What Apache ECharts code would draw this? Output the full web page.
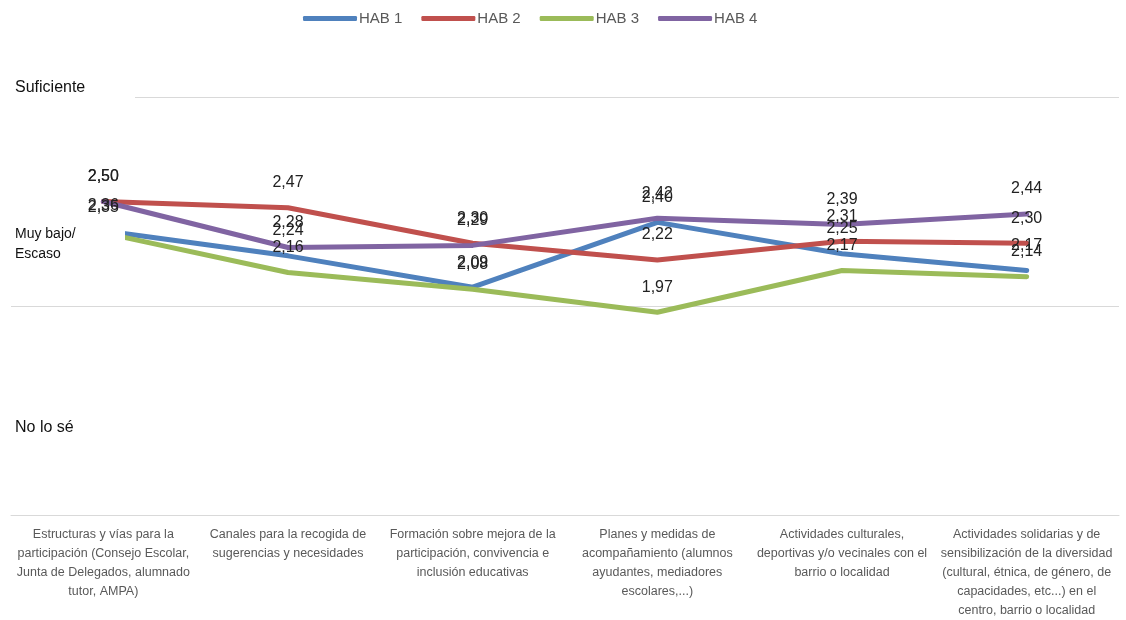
<!DOCTYPE html>
<html>
<head>
<meta charset="utf-8">
<script src="https://cdn.jsdelivr.net/npm/echarts@6/dist/echarts.min.js"></script>
<style>
  html, body { margin: 0; padding: 0; background: #fff; }
  #chart { width: 1126px; height: 620px; }
</style>
</head>
<body>
<div id="chart"></div>
<script>
// categorias del eje x
const categories = [
  'Estructuras y vías para la\nparticipación (Consejo Escolar,\nJunta de Delegados, alumnado\ntutor, AMPA)',
  'Canales para la recogida de\nsugerencias y necesidades',
  'Formación sobre mejora de la\nparticipación, convivencia e\ninclusión educativas',
  'Planes y medidas de\nacompañamiento (alumnos\nayudantes, mediadores\nescolares,...)',
  'Actividades culturales,\ndeportivas y/o vecinales con el\nbarrio o localidad',
  'Actividades solidarias y de\nsensibilización de la diversidad\n(cultural, étnica, de género, de\ncapacidades, etc...) en el\ncentro, barrio o localidad'
]
const seriesNames = ['HAB 1', 'HAB 2', 'HAB 3', 'HAB 4']
const hab1 = [2.36, 2.24, 2.09, 2.40, 2.25, 2.17]
const hab2 = [2.50, 2.47, 2.30, 2.22, 2.31, 2.30]
const hab3 = [2.35, 2.16, 2.08, 1.97, 2.17, 2.14]
const hab4 = [2.50, 2.28, 2.29, 2.42, 2.39, 2.44]
const colors = ['#4F81BD', '#C0504D', '#9BBB59', '#8064A2']

const chart = echarts.init(document.getElementById('chart'))

function lineSeries(name, data, color) {
  return {
    name,
    type: 'line',
    data,
    symbol: 'circle',
    symbolSize: 0,
    showSymbol: true,
    color,
    lineStyle: { width: 5, color, cap: 'round', join: 'round' },
    label: {
      show: true,
      position: 'top',
      distance: 17,
      fontFamily: 'Liberation Sans',
      fontSize: 16,
      color: '#222',
      formatter: p => p.value.toFixed(2).replace('.', ',')
    }
  }
}

chart.setOption({
  animation: false,
  legend: {
    left: 298,
    top: 6,
    icon: 'roundRect',
    itemWidth: 54,
    itemHeight: 5,
    itemGap: 19,
    textStyle: { fontFamily: 'Liberation Sans', fontSize: 15, color: '#595959', padding: [0, 0, 0, -3] },
    data: seriesNames
  },
  grid: { left: 11, right: 7, top: 97, bottom: 101, containLabel: false },
  xAxis: {
    type: 'category',
    data: categories,
    axisLine: { lineStyle: { color: '#d9d9d9', width: 1 } },
    axisTick: { show: false },
    axisLabel: {
      interval: 0,
      margin: 10,
      fontFamily: 'Liberation Sans',
      fontSize: 12.5,
      lineHeight: 19,
      color: '#595959',
      align: 'center',
      verticalAlign: 'top'
    }
  },
  yAxis: {
    type: 'value',
    min: 1,
    max: 3,
    interval: 1,
    axisLabel: { show: false },
    axisLine: { show: false },
    axisTick: { show: false },
    splitLine: { lineStyle: { color: '#d9d9d9', width: 1 } }
  },
  series: [
    lineSeries(seriesNames[0], hab1, colors[0]),
    lineSeries(seriesNames[1], hab2, colors[1]),
    lineSeries(seriesNames[2], hab3, colors[2]),
    lineSeries(seriesNames[3], hab4, colors[3])
  ],
  graphic: [
    // cuadros de texto del eje y (con fondo blanco como en el original)
    { type: 'rect', z: 100, shape: { x: 0, y: 74, width: 135, height: 26 }, style: { fill: '#fff' } },
    { type: 'rect', z: 100, shape: { x: 0, y: 222, width: 125, height: 44 }, style: { fill: '#fff' } },
    { type: 'text', z: 101, left: 15, top: 80, style: { text: 'Suficiente', fontFamily: 'Liberation Sans', fontSize: 16, fill: '#111' } },
    { type: 'text', z: 101, left: 15, top: 224, style: { text: 'Muy bajo/\nEscaso', fontFamily: 'Liberation Sans', fontSize: 14, lineHeight: 20, fill: '#111' } },
    { type: 'text', z: 101, left: 15, top: 420, style: { text: 'No lo sé', fontFamily: 'Liberation Sans', fontSize: 16, fill: '#111' } }
  ]
})
</script>
</body>
</html>
